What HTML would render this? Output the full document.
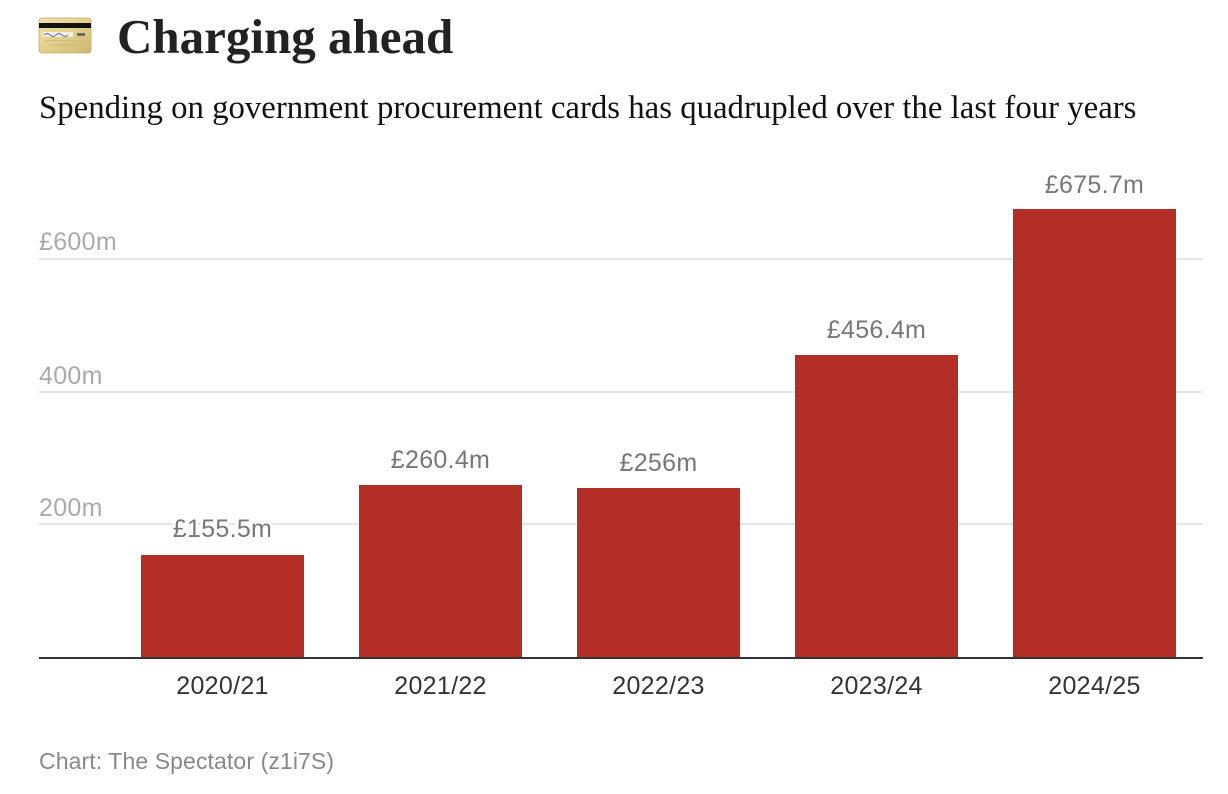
<!DOCTYPE html>
<html>
<head>
<meta charset="utf-8">
<style>
  html, body { margin: 0; padding: 0; background: #ffffff; }
  body { width: 1228px; height: 794px; overflow: hidden; }
  svg { display: block; }
  .serif { font-family: "Liberation Serif", serif; }
  .sans { font-family: "Liberation Sans", sans-serif; }
</style>
</head>
<body>
<svg width="1228" height="794" viewBox="0 0 1228 794" xmlns="http://www.w3.org/2000/svg">
  <defs>
    <linearGradient id="gold" x1="0" y1="0" x2="1" y2="1">
      <stop offset="0" stop-color="#efe3a8"/>
      <stop offset="0.5" stop-color="#e3d08a"/>
      <stop offset="1" stop-color="#cdb86e"/>
    </linearGradient>
  </defs>

  <!-- Card icon -->
  <rect x="39" y="18" width="52" height="35" rx="3" ry="3" fill="url(#gold)" stroke="#c2ad66" stroke-width="0.8"/>
  <rect x="39" y="23" width="52" height="5" fill="#111"/>
  <rect x="43" y="32" width="30" height="5" fill="#f4f0e0"/>
  <path d="M44 35 q3 -3 6 0 t6 0 t6 0 t6 0" stroke="#5b6fb0" stroke-width="0.9" fill="none"/>
  <rect x="77" y="33" width="8" height="3" fill="#6a6a6a"/>
  <rect x="44" y="40" width="40" height="1.2" fill="#cbbd85"/>
  <rect x="50" y="44" width="34" height="1.2" fill="#cbbd85"/>

  <!-- Title -->
  <text x="117" y="53" class="serif" font-size="49" font-weight="bold" fill="#222">Charging ahead</text>
  <!-- Subtitle -->
  <text x="39" y="118" class="serif" font-size="32.8" fill="#111">Spending on government procurement cards has quadrupled over the last four years</text>

  <!-- Gridlines -->
  <rect x="39" y="258" width="1164" height="2" fill="#e6e6e6"/>
  <rect x="39" y="391" width="1164" height="2" fill="#e6e6e6"/>
  <rect x="39" y="523" width="1164" height="2" fill="#e6e6e6"/>

  <!-- Y axis labels -->
  <g class="sans" font-size="25" fill="#aaaaaa" letter-spacing="0.3">
    <text x="39" y="250">£600m</text>
    <text x="39" y="384">400m</text>
    <text x="39" y="516">200m</text>
  </g>

  <!-- Bars -->
  <g fill="#b32e27">
    <rect x="141" y="555" width="163" height="102"/>
    <rect x="359" y="485" width="163" height="172"/>
    <rect x="577" y="488" width="163" height="169"/>
    <rect x="795" y="355" width="163" height="302"/>
    <rect x="1013" y="209" width="163" height="448"/>
  </g>

  <!-- Axis baseline -->
  <rect x="39" y="657" width="1164" height="2" fill="#333"/>

  <!-- Value labels -->
  <g class="sans" font-size="25" fill="#777777" letter-spacing="0.3" text-anchor="middle" stroke="#ffffff" stroke-width="6" stroke-linejoin="round" paint-order="stroke">
    <text x="222.5" y="537">£155.5m</text>
    <text x="440.5" y="468">£260.4m</text>
    <text x="658.5" y="471">£256m</text>
    <text x="876.5" y="338">£456.4m</text>
    <text x="1094.5" y="193">£675.7m</text>
  </g>

  <!-- Category labels -->
  <g class="sans" font-size="25" fill="#333333" letter-spacing="0.3" text-anchor="middle">
    <text x="222.5" y="694">2020/21</text>
    <text x="440.5" y="694">2021/22</text>
    <text x="658.5" y="694">2022/23</text>
    <text x="876.5" y="694">2023/24</text>
    <text x="1094.5" y="694">2024/25</text>
  </g>

  <!-- Footer -->
  <text x="39" y="769" class="sans" font-size="23" fill="#888888" letter-spacing="0.1">Chart: The Spectator (z1i7S)</text>
</svg>
</body>
</html>
